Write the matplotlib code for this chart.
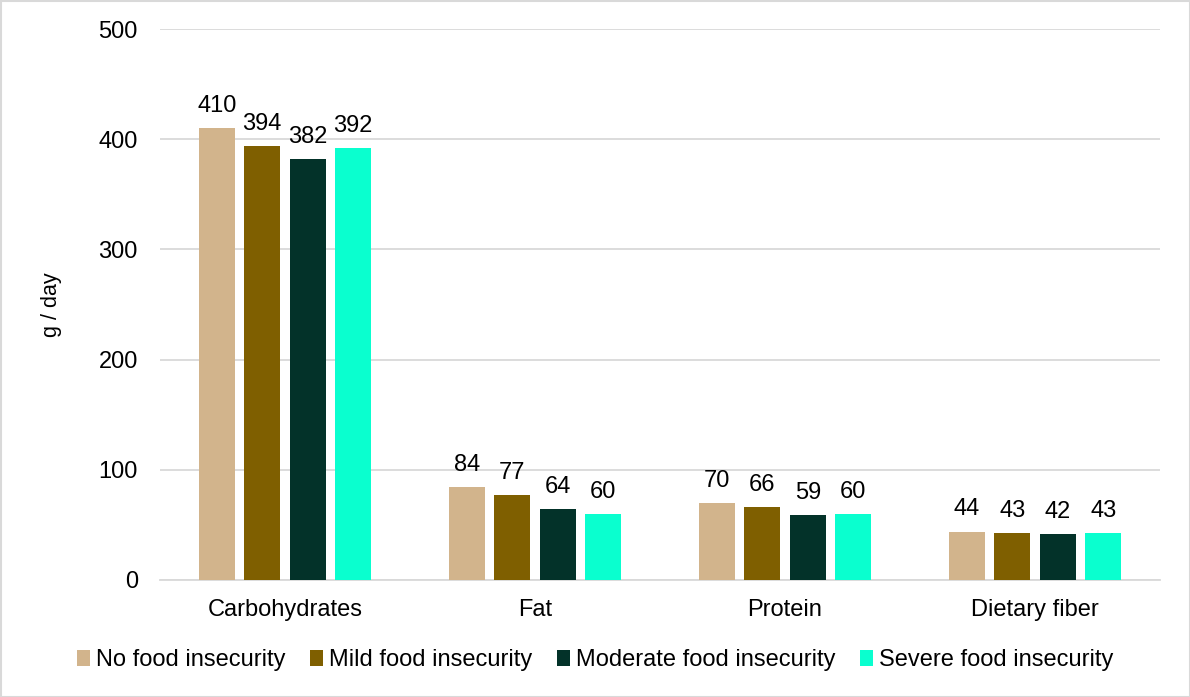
import matplotlib
matplotlib.use("Agg")
import matplotlib.pyplot as plt
import numpy as np
from matplotlib.patches import Rectangle

plt.rcParams['font.family'] = ['Liberation Sans', 'DejaVu Sans']

categories = ["Carbohydrates", "Fat", "Protein", "Dietary fiber"]
series_names = ["No food insecurity", "Mild food insecurity",
                "Moderate food insecurity", "Severe food insecurity"]
no_fi = [410, 84, 70, 44]
mild_fi = [394, 77, 66, 43]
moderate_fi = [382, 64, 59, 42]
severe_fi = [392, 60, 60, 43]
series_values = [no_fi, mild_fi, moderate_fi, severe_fi]
colors = ["#D2B48C", "#7F5F00", "#033229", "#0AFFCF"]
yticks = [0, 100, 200, 300, 400, 500]

FS = 17

fig = plt.figure(figsize=(11.9, 6.97), dpi=100)
ax = fig.add_axes([160/1190, 1-580/697, 1000/1190, 551/697])

x = np.arange(len(categories))
width = 0.144
pitch = 0.182
for i, (name, vals, c) in enumerate(zip(series_names, series_values, colors)):
    pos = x + (i - 1.5) * pitch
    bars = ax.bar(pos, vals, width=width, color=c, label=name, zorder=3)
    for b, v in zip(bars, vals):
        ax.annotate(f"{v}", (b.get_x() + b.get_width()/2, v), xytext=(0, 8),
                    textcoords="offset points", ha="center", va="bottom",
                    fontsize=FS, color="#000000")

ax.set_xlim(-0.5, 3.5)
ax.set_ylim(0, 500)
ax.set_yticks(yticks)
ax.set_xticks(x)
ax.set_xticklabels(categories, fontsize=FS)
ax.tick_params(axis='y', labelsize=FS, length=0, pad=16)
ax.tick_params(axis='x', length=0, pad=14)
ax.grid(axis='y', color="#D9D9D9", linewidth=1.3, zorder=0)
for s in ["top", "right", "left"]:
    ax.spines[s].set_visible(False)
ax.spines["bottom"].set_color("#D9D9D9")
ax.spines["bottom"].set_linewidth(1.3)
ax.set_ylabel("g / day", fontsize=15.5, labelpad=26)

leg = fig.legend(loc="center", bbox_to_anchor=(0.5, 1-660/697), ncol=4,
                 frameon=False, fontsize=FS, handlelength=0.55, handleheight=0.65,
                 handletextpad=0.25, columnspacing=1.05)

fig.patches.append(Rectangle((0.5/1190, 0.5/697), 1-1/1190, 1-1/697,
                             transform=fig.transFigure, fill=False,
                             edgecolor="#D9D9D9", linewidth=1.5))

fig.savefig("out.png", dpi=100)
